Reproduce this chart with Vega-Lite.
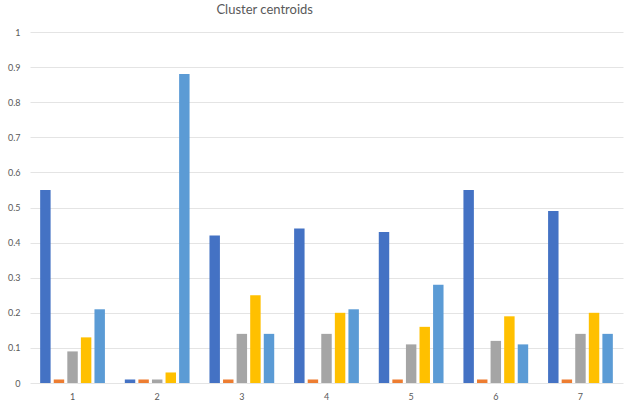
{
  "$schema": "https://vega.github.io/schema/vega-lite/v6.json",
  "width": 593,
  "height": 351,
  "autosize": {"type": "none"},
  "padding": {"left": 30, "top": 32, "right": 3, "bottom": 25},
  "background": "white",
  "title": {
    "text": "Cluster centroids",
    "anchor": "start",
    "dx": 209,
    "offset": 11,
    "font": "Lato",
    "fontSize": 13,
    "fontWeight": "normal",
    "color": "#595959"
  },
  "data": {
    "values": [
      {"cluster": "1", "feature": "f1", "value": 0.55},
      {"cluster": "1", "feature": "f2", "value": 0.01},
      {"cluster": "1", "feature": "f3", "value": 0.09},
      {"cluster": "1", "feature": "f4", "value": 0.13},
      {"cluster": "1", "feature": "f5", "value": 0.21},
      {"cluster": "2", "feature": "f1", "value": 0.01},
      {"cluster": "2", "feature": "f2", "value": 0.01},
      {"cluster": "2", "feature": "f3", "value": 0.01},
      {"cluster": "2", "feature": "f4", "value": 0.03},
      {"cluster": "2", "feature": "f5", "value": 0.88},
      {"cluster": "3", "feature": "f1", "value": 0.42},
      {"cluster": "3", "feature": "f2", "value": 0.01},
      {"cluster": "3", "feature": "f3", "value": 0.14},
      {"cluster": "3", "feature": "f4", "value": 0.25},
      {"cluster": "3", "feature": "f5", "value": 0.14},
      {"cluster": "4", "feature": "f1", "value": 0.44},
      {"cluster": "4", "feature": "f2", "value": 0.01},
      {"cluster": "4", "feature": "f3", "value": 0.14},
      {"cluster": "4", "feature": "f4", "value": 0.20},
      {"cluster": "4", "feature": "f5", "value": 0.21},
      {"cluster": "5", "feature": "f1", "value": 0.43},
      {"cluster": "5", "feature": "f2", "value": 0.01},
      {"cluster": "5", "feature": "f3", "value": 0.11},
      {"cluster": "5", "feature": "f4", "value": 0.16},
      {"cluster": "5", "feature": "f5", "value": 0.28},
      {"cluster": "6", "feature": "f1", "value": 0.55},
      {"cluster": "6", "feature": "f2", "value": 0.01},
      {"cluster": "6", "feature": "f3", "value": 0.12},
      {"cluster": "6", "feature": "f4", "value": 0.19},
      {"cluster": "6", "feature": "f5", "value": 0.11},
      {"cluster": "7", "feature": "f1", "value": 0.49},
      {"cluster": "7", "feature": "f2", "value": 0.01},
      {"cluster": "7", "feature": "f3", "value": 0.14},
      {"cluster": "7", "feature": "f4", "value": 0.20},
      {"cluster": "7", "feature": "f5", "value": 0.14}
    ]
  },
  "mark": {"type": "bar"},
  "encoding": {
    "x": {
      "field": "cluster",
      "type": "nominal",
      "scale": {"paddingInner": 0.235, "paddingOuter": 0.12},
      "axis": {
        "title": null,
        "labelAngle": 0,
        "domain": false,
        "ticks": false,
        "grid": false,
        "labelPadding": 9,
        "labelFont": "Lato",
        "labelFontSize": 9,
        "labelColor": "#595959"
      }
    },
    "xOffset": {
      "field": "feature",
      "type": "nominal",
      "scale": {"paddingInner": 0.23, "paddingOuter": 0}
    },
    "y": {
      "field": "value",
      "type": "quantitative",
      "scale": {"domain": [0, 1], "nice": false},
      "axis": {
        "title": null,
        "values": [0, 0.1, 0.2, 0.3, 0.4, 0.5, 0.6, 0.7, 0.8, 0.9, 1],
        "format": ".1~f",
        "domain": false,
        "ticks": false,
        "grid": true,
        "gridColor": "#e4e4e4",
        "gridWidth": 1,
        "labelPadding": 10,
        "labelFont": "Lato",
        "labelFontSize": 9,
        "labelColor": "#595959"
      }
    },
    "color": {
      "field": "feature",
      "type": "nominal",
      "scale": {
        "domain": ["f1", "f2", "f3", "f4", "f5"],
        "range": ["#4472C4", "#ED7D31", "#A5A5A5", "#FFC000", "#5B9BD5"]
      },
      "legend": null
    }
  },
  "config": {
    "view": {"stroke": null}
  }
}
